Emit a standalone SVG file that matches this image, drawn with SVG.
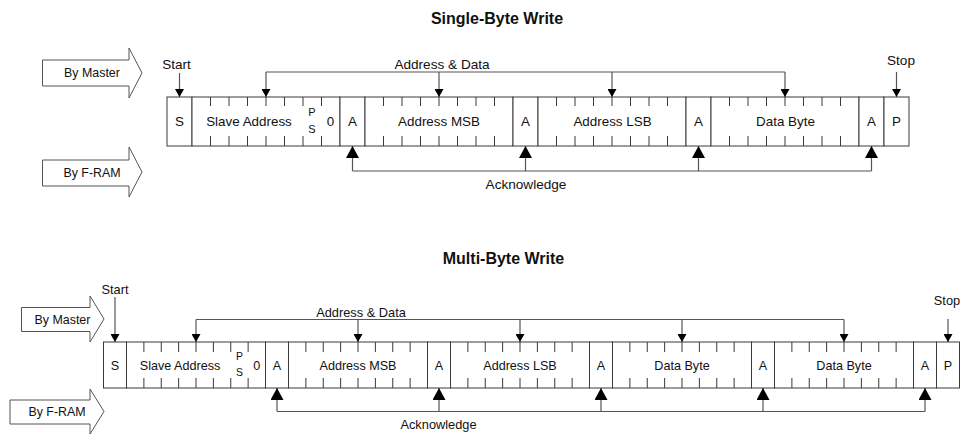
<svg xmlns="http://www.w3.org/2000/svg" width="961" height="435" viewBox="0 0 961 435">
<style>
.t{font-family:"Liberation Sans",Arial,sans-serif;fill:#111;text-anchor:middle}
.ttl{font-size:16px;font-weight:bold}
.c1{font-size:13.4px}
.c2{font-size:12.6px}
.ps1{font-size:11px}
.ps2{font-size:10.5px}
.lbl{font-size:12.8px}
.lbl1{font-size:13.6px}
.blbl{font-size:12.4px}
.cell{fill:#fff;stroke:#3a3a3a;stroke-width:1}
.tick{stroke:#3a3a3a;stroke-width:1;fill:none}
.conn{stroke:#555;stroke-width:1.2;fill:none}
.blk{fill:#fff;stroke:#555;stroke-width:1}
</style>
<defs>
<marker id="ad" markerWidth="8" markerHeight="9" refX="8" refY="4.5" orient="auto" markerUnits="userSpaceOnUse"><path d="M0,0 L8,4.5 L0,9 Z" fill="#000"/></marker>
<marker id="ak" markerWidth="12" markerHeight="13" refX="12" refY="6.5" orient="auto" markerUnits="userSpaceOnUse"><path d="M0,0 L12,6.5 L0,13 Z" fill="#000"/></marker>
</defs>
<rect width="961" height="435" fill="#fff"/>

<!-- ===== Single-Byte Write ===== -->
<text class="t ttl" x="497" y="24">Single-Byte Write</text>

<g id="s1-by-master">
<polygon class="blk" points="42.5,60 129,60 129,48 142,73 129,98 129,86 42.5,86"/>
<text class="t blbl" x="92" y="77">By Master</text>
</g>
<g id="s1-by-fram">
<polygon class="blk" points="42.5,160 129,160 129,147 142,172 129,197 129,186 42.5,186"/>
<text class="t blbl" x="92" y="177">By F-RAM</text>
</g>

<g id="s1-S"><rect class="cell" x="167" y="97" width="25" height="49"/><text class="t c1" x="179.5" y="126">S</text></g>
<g id="s1-slave-address"><rect class="cell" x="192" y="97" width="148" height="49"/>
<path class="tick" d="M210.5,97v9M229,97v9M247.5,97v9M266,97v9M284.5,97v9M303,97v9M321.5,97v9M210.5,136v10M229,136v10M247.5,136v10M266,136v10M284.5,136v10M303,136v10M321.5,136v10"/>
<text class="t c1" x="249" y="126">Slave Address</text>
<text class="t ps1" x="312" y="116">P</text><text class="t ps1" x="312" y="132.7">S</text>
<text class="t c1" x="330.5" y="126">0</text></g>
<g id="s1-A1"><rect class="cell" x="340" y="97" width="25" height="49"/><text class="t c1" x="352.5" y="126">A</text></g>
<g id="s1-address-msb"><rect class="cell" x="365" y="97" width="148" height="49"/>
<path class="tick" d="M383.5,97v9M402,97v9M420.5,97v9M439,97v9M457.5,97v9M476,97v9M494.5,97v9M383.5,136v10M402,136v10M420.5,136v10M439,136v10M457.5,136v10M476,136v10M494.5,136v10"/>
<text class="t c1" x="439" y="126">Address MSB</text></g>
<g id="s1-A2"><rect class="cell" x="513" y="97" width="25" height="49"/><text class="t c1" x="525.5" y="126">A</text></g>
<g id="s1-address-lsb"><rect class="cell" x="538" y="97" width="148" height="49"/>
<path class="tick" d="M556.5,97v9M575,97v9M593.5,97v9M612,97v9M630.5,97v9M649,97v9M667.5,97v9M556.5,136v10M575,136v10M593.5,136v10M612,136v10M630.5,136v10M649,136v10M667.5,136v10"/>
<text class="t c1" x="612.5" y="126">Address LSB</text></g>
<g id="s1-A3"><rect class="cell" x="686" y="97" width="25" height="49"/><text class="t c1" x="698.5" y="126">A</text></g>
<g id="s1-data-byte"><rect class="cell" x="711" y="97" width="148" height="49"/>
<path class="tick" d="M729.5,97v9M748,97v9M766.5,97v9M785,97v9M803.5,97v9M822,97v9M840.5,97v9M729.5,136v10M748,136v10M766.5,136v10M785,136v10M803.5,136v10M822,136v10M840.5,136v10"/>
<text class="t c1" x="785.5" y="126">Data Byte</text></g>
<g id="s1-A4"><rect class="cell" x="859" y="97" width="25" height="49"/><text class="t c1" x="871.5" y="126">A</text></g>
<g id="s1-P"><rect class="cell" x="884" y="97" width="25" height="49"/><text class="t c1" x="896.5" y="126">P</text></g>

<g id="s1-connectors">
<text class="t lbl1" x="176.5" y="69">Start</text>
<path class="conn" d="M179.5,73V97" marker-end="url(#ad)"/>
<text class="t lbl1" x="901" y="65">Stop</text>
<path class="conn" d="M896.5,72V97" marker-end="url(#ad)"/>
<text class="t lbl1" x="442" y="68.5">Address &amp; Data</text>
<path class="conn" d="M266,72H785"/>
<path class="conn" d="M266,72V97" marker-end="url(#ad)"/>
<path class="conn" d="M439,72V97" marker-end="url(#ad)"/>
<path class="conn" d="M612,72V97" marker-end="url(#ad)"/>
<path class="conn" d="M785,72V97" marker-end="url(#ad)"/>
<path class="conn" d="M352.5,171H871.5"/>
<path class="conn" d="M352.5,171V146" marker-end="url(#ak)"/>
<path class="conn" d="M525.5,171V146" marker-end="url(#ak)"/>
<path class="conn" d="M698.5,171V146" marker-end="url(#ak)"/>
<path class="conn" d="M871.5,171V146" marker-end="url(#ak)"/>
<text class="t lbl1" x="526" y="188.5">Acknowledge</text>
</g>

<!-- ===== Multi-Byte Write ===== -->
<text class="t ttl" x="503.5" y="264">Multi-Byte Write</text>

<g id="m-by-master">
<polygon class="blk" points="21.5,307.5 90,307.5 90,296 104,319 90,342 90,331.5 21.5,331.5"/>
<text class="t blbl" x="62.5" y="323.5">By Master</text>
</g>
<g id="m-by-fram">
<polygon class="blk" points="10,400 90,400 90,389 104,411.5 90,434 90,424 10,424"/>
<text class="t blbl" x="57" y="416">By F-RAM</text>
</g>

<g id="m-S"><rect class="cell" x="103.5" y="342" width="23" height="46"/><text class="t c2" x="115" y="370">S</text></g>
<g id="m-slave-address"><rect class="cell" x="126.5" y="342" width="139" height="46"/>
<path class="tick" d="M143.875,342v10M161.25,342v10M178.625,342v10M196,342v10M213.375,342v10M230.75,342v10M248.125,342v10M143.875,378v10M161.25,378v10M178.625,378v10M196,378v10M213.375,378v10M230.75,378v10M248.125,378v10"/>
<text class="t c2" x="180" y="370">Slave Address</text>
<text class="t ps2" x="239.5" y="360">P</text><text class="t ps2" x="239.5" y="376">S</text>
<text class="t c2" x="256.8" y="370">0</text></g>
<g id="m-A1"><rect class="cell" x="265.5" y="342" width="23" height="46"/><text class="t c2" x="277" y="370">A</text></g>
<g id="m-address-msb"><rect class="cell" x="288.5" y="342" width="139" height="46"/>
<path class="tick" d="M305.875,342v10M323.25,342v10M340.625,342v10M358,342v10M375.375,342v10M392.75,342v10M410.125,342v10M305.875,378v10M323.25,378v10M340.625,378v10M358,378v10M375.375,378v10M392.75,378v10M410.125,378v10"/>
<text class="t c2" x="358" y="370">Address MSB</text></g>
<g id="m-A2"><rect class="cell" x="427.5" y="342" width="23" height="46"/><text class="t c2" x="439" y="370">A</text></g>
<g id="m-address-lsb"><rect class="cell" x="450.5" y="342" width="139" height="46"/>
<path class="tick" d="M467.875,342v10M485.25,342v10M502.625,342v10M520,342v10M537.375,342v10M554.75,342v10M572.125,342v10M467.875,378v10M485.25,378v10M502.625,378v10M520,378v10M537.375,378v10M554.75,378v10M572.125,378v10"/>
<text class="t c2" x="520" y="370">Address LSB</text></g>
<g id="m-A3"><rect class="cell" x="589.5" y="342" width="23" height="46"/><text class="t c2" x="601" y="370">A</text></g>
<g id="m-data-byte-1"><rect class="cell" x="612.5" y="342" width="139" height="46"/>
<path class="tick" d="M629.875,342v10M647.25,342v10M664.625,342v10M682,342v10M699.375,342v10M716.75,342v10M734.125,342v10M629.875,378v10M647.25,378v10M664.625,378v10M682,378v10M699.375,378v10M716.75,378v10M734.125,378v10"/>
<text class="t c2" x="682" y="370">Data Byte</text></g>
<g id="m-A4"><rect class="cell" x="751.5" y="342" width="23" height="46"/><text class="t c2" x="763" y="370">A</text></g>
<g id="m-data-byte-2"><rect class="cell" x="774.5" y="342" width="139" height="46"/>
<path class="tick" d="M791.875,342v10M809.25,342v10M826.625,342v10M844,342v10M861.375,342v10M878.75,342v10M896.125,342v10M791.875,378v10M809.25,378v10M826.625,378v10M844,378v10M861.375,378v10M878.75,378v10M896.125,378v10"/>
<text class="t c2" x="844" y="370">Data Byte</text></g>
<g id="m-A5"><rect class="cell" x="913.5" y="342" width="23" height="46"/><text class="t c2" x="925" y="370">A</text></g>
<g id="m-P"><rect class="cell" x="936.5" y="342" width="23" height="46"/><text class="t c2" x="948" y="370">P</text></g>

<g id="m-connectors">
<text class="t lbl" x="115" y="294">Start</text>
<path class="conn" d="M115,297V342" marker-end="url(#ad)"/>
<text class="t lbl" x="947" y="305">Stop</text>
<path class="conn" d="M948,319V342" marker-end="url(#ad)"/>
<text class="t lbl" x="361" y="316.5">Address &amp; Data</text>
<path class="conn" d="M196,319.5H844"/>
<path class="conn" d="M196,319.5V342" marker-end="url(#ad)"/>
<path class="conn" d="M358,319.5V342" marker-end="url(#ad)"/>
<path class="conn" d="M520,319.5V342" marker-end="url(#ad)"/>
<path class="conn" d="M682,319.5V342" marker-end="url(#ad)"/>
<path class="conn" d="M844,319.5V342" marker-end="url(#ad)"/>
<path class="conn" d="M277,411.5H925"/>
<path class="conn" d="M277,411.5V388" marker-end="url(#ak)"/>
<path class="conn" d="M439,411.5V388" marker-end="url(#ak)"/>
<path class="conn" d="M601,411.5V388" marker-end="url(#ak)"/>
<path class="conn" d="M763,411.5V388" marker-end="url(#ak)"/>
<path class="conn" d="M925,411.5V388" marker-end="url(#ak)"/>
<text class="t lbl" x="438.5" y="428.5">Acknowledge</text>
</g>
</svg>
